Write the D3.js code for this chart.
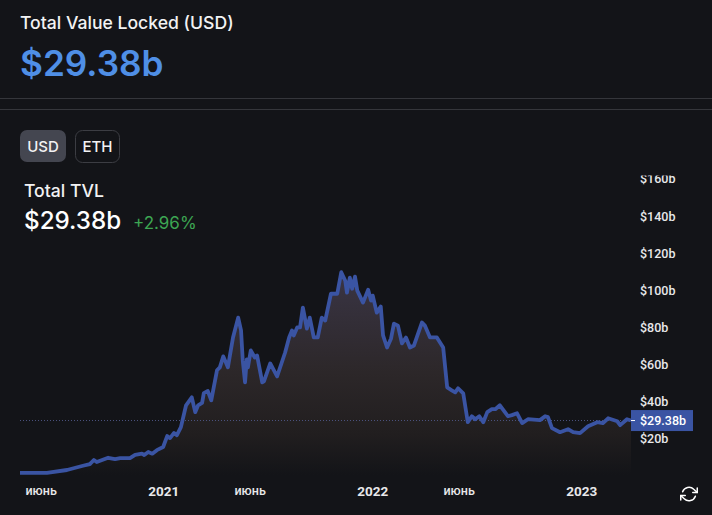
<!DOCTYPE html>
<html>
<head>
<meta charset="utf-8">
<script src="https://cdn.jsdelivr.net/npm/d3@7"></script>
<style>
  html, body { margin: 0; padding: 0; background: #131418; overflow: hidden; }
  text { font-family: Inter, sans-serif; }
  .axis text { font-family: Roboto, sans-serif; font-size: 12.5px; font-weight: 500; fill: #e8e8ea; }
  .axis .year text { font-size: 13.5px; font-weight: 700; }
</style>
</head>
<body>
<div id="chart"></div>
<script>
// days since the first point of the chart
const startDate = new Date(2020, 3, 26);
const days = [0, 47, 82, 110, 122, 129, 134, 154, 166, 175, 192, 201, 213, 217, 224, 231, 239, 250, 257, 262,
    269, 274, 281, 290, 300, 306, 311, 318, 321, 328, 334, 344, 349, 355, 363, 372, 381, 386, 389, 393,
    396, 398, 403, 410, 414, 423, 426, 437, 449, 463, 470, 475, 478, 484, 489, 494, 501, 506, 513, 520,
    527, 533, 543, 554, 561, 568, 571, 576, 580, 585, 589, 599, 608, 613, 616, 623, 630, 634, 641, 648,
    653, 660, 667, 674, 681, 688, 702, 707, 716, 728, 739, 746, 754, 760, 765, 774, 782, 789, 795, 802,
    809, 816, 824, 830, 838, 852, 859, 868, 877, 887, 908, 917, 922, 929, 943, 957, 966, 978, 992, 1008,
    1018, 1027, 1043, 1048, 1060, 1067];

// total value locked, billions of USD
const tvl = [1.2, 1.2, 2.7, 5, 5.9, 8.1, 7, 9.3, 8.6, 9.1, 9.1, 10.9, 11.5, 10.8, 12.4, 11.5, 13.4, 15.1, 21, 19.9,
    22.7, 21.5, 25.8, 37.6, 41.9, 33.9, 37.6, 38.9, 44.2, 45.3, 40.3, 56.5, 58.1, 64, 58.1, 74.2, 84.9, 78, 61.8, 50,
    62.4, 58.1, 67.2, 63.4, 64.5, 50, 50.5, 60.2, 53.2, 66.1, 74.2, 78, 75.3, 79.6, 79.6, 90.3, 79, 84.9, 74.2, 74.2,
    84.9, 83.3, 97.8, 97.8, 109.4, 104.8, 98.4, 106.5, 100.5, 107, 99.5, 93, 100, 94.1, 96.8, 87.6, 90.9, 75.3, 68.8, 73.7,
    81.7, 80.6, 71, 74.2, 68.8, 69.9, 82.3, 80.6, 74.2, 74.2, 68.8, 47.3, 45.7, 44.6, 46.8, 44.1, 28.5, 31.7, 30.1, 31.7,
    28.5, 33.9, 35.5, 35.5, 37.6, 31.7, 32.3, 33.3, 28, 30.1, 29.6, 31.7, 31.2, 25.3, 23.1, 24.7, 23.1, 22.6, 26.3, 28.5,
    28, 30.6, 29, 26.9, 30.1, 29.38];

const yTicks = [20, 40, 60, 80, 100, 120, 140, 160];
const timeTicks = [new Date(2020, 5, 1), new Date(2021, 0, 1), new Date(2021, 5, 1), new Date(2022, 0, 1), new Date(2022, 5, 1), new Date(2023, 0, 1)];
const timeLabels = ["июнь", "2021", "июнь", "2022", "июнь", "2023"];
const lastValue = 29.38;

const width = 712, height = 515;
const lineColor = "#3a54a3";

const svg = d3.select("#chart")
    .append("svg")
    .attr("width", width)
    .attr("height", height)
    .style("display", "block");

// header block
svg.append("text").attr("x", 20).attr("y", 29)
    .style("font-size", "17.6px").style("font-weight", 500).style("fill", "#f2f2f3")
    .text("Total Value Locked (USD)");
svg.append("text").attr("x", 20).attr("y", 76)
    .style("font-size", "35.2px").style("font-weight", 600).style("fill", "#4f8fe6")
    .text("$29.38b");

svg.selectAll(".divider")
    .data([98, 109])
    .join("line")
    .attr("class", "divider")
    .attr("x1", 0).attr("x2", width)
    .attr("y1", d => d + 0.5).attr("y2", d => d + 0.5)
    .style("stroke", "#35363b");

// USD / ETH toggle
svg.append("rect").attr("x", 20).attr("y", 130).attr("width", 46).attr("height", 32).attr("rx", 7)
    .style("fill", "#444650");
svg.append("rect").attr("x", 75.5).attr("y", 130.5).attr("width", 44).attr("height", 32).attr("rx", 7)
    .style("fill", "none").style("stroke", "#3c3d43");
svg.append("text").attr("x", 43).attr("y", 152)
    .attr("text-anchor", "middle")
    .style("font-size", "15px").style("font-weight", 500).style("fill", "#f2f2f3").text("USD");
svg.append("text").attr("x", 97.5).attr("y", 152)
    .attr("text-anchor", "middle")
    .style("font-size", "15px").style("font-weight", 500).style("fill", "#f2f2f3").text("ETH");

svg.append("text").attr("x", 24).attr("y", 197)
    .style("font-size", "17.6px").style("font-weight", 500).style("fill", "#f2f2f3").text("Total TVL");
svg.append("text").attr("x", 24).attr("y", 229)
    .style("font-size", "24.2px").style("font-weight", 500).style("fill", "#ffffff").text("$29.38b");
svg.append("text").attr("x", 133).attr("y", 229)
    .style("font-size", "17px").style("font-weight", 400).style("fill", "#3da653").text("+2.96%");

// scales
const data = days.map((d, i) => ({date: d3.timeDay.offset(startDate, d), value: tvl[i]}));

const x = d3.scaleTime()
    .domain([startDate, d3.timeDay.offset(startDate, 1067)])
    .range([20, 631]);
const y = d3.scaleLinear()
    .domain([0, 162.4])
    .range([475, 174]);

const defs = svg.append("defs");
const grad = defs.append("linearGradient")
    .attr("id", "areaFill")
    .attr("gradientUnits", "userSpaceOnUse")
    .attr("x1", 0).attr("x2", 0)
    .attr("y1", y(110)).attr("y2", y(0));
grad.append("stop").attr("offset", 0).attr("stop-color", "#3a3545");
grad.append("stop").attr("offset", 0.5).attr("stop-color", "#2c2729");
grad.append("stop").attr("offset", 0.8).attr("stop-color", "#211e1f");
grad.append("stop").attr("offset", 1).attr("stop-color", "#131418");

defs.append("clipPath").attr("id", "axisClip")
    .append("rect").attr("x", 631).attr("y", 175.5).attr("width", 81).attr("height", 300);

// area + line
svg.append("path")
    .datum(data)
    .attr("d", d3.area().x(d => x(d.date)).y0(y(0)).y1(d => y(d.value)))
    .style("fill", "url(#areaFill)");

svg.append("line")
    .attr("x1", 20).attr("x2", 631)
    .attr("y1", y(lastValue)).attr("y2", y(lastValue))
    .style("stroke", "#4d5480")
    .style("stroke-width", 1)
    .style("stroke-dasharray", "1,2");

svg.append("path")
    .datum(data)
    .attr("d", d3.line().x(d => x(d.date)).y(d => y(d.value)))
    .style("fill", "none")
    .style("stroke", lineColor)
    .style("stroke-width", 3.8)
    .style("stroke-linejoin", "round");

// y axis, top label is cut off by the pane like in the original
const yAxis = svg.append("g")
    .attr("class", "axis")
    .attr("clip-path", "url(#axisClip)")
    .append("g")
    .attr("transform", "translate(631, 0.5)")
    .call(d3.axisRight(y).tickValues(yTicks).tickSize(0).tickPadding(9).tickFormat(d => `$${d}b`));
yAxis.select(".domain").remove();

// x axis
const xAxis = svg.append("g")
    .attr("class", "axis")
    .attr("transform", "translate(0, 484)")
    .call(d3.axisBottom(x).tickValues(timeTicks).tickSize(0).tickPadding(2).tickFormat((d, i) => timeLabels[i]));
xAxis.select(".domain").remove();
xAxis.selectAll(".tick").classed("year", (d, i) => i % 2 === 1);

// current value label
svg.append("rect")
    .attr("x", 631).attr("y", y(lastValue) - 10.5)
    .attr("width", 62).attr("height", 21)
    .style("fill", lineColor);
svg.append("line")
    .attr("x1", 631).attr("x2", 635)
    .attr("y1", y(lastValue)).attr("y2", y(lastValue))
    .style("stroke", "#ffffff");
svg.append("text")
    .attr("x", 640).attr("y", y(lastValue) + 4.5)
    .style("font-family", "Roboto, sans-serif")
    .style("font-size", "12.5px").style("font-weight", 500).style("fill", "#ffffff")
    .text("$" + lastValue + "b");

// refresh icon
const icon = svg.append("g")
    .attr("transform", "translate(680, 485) scale(0.75)")
    .style("fill", "none").style("stroke", "#ffffff")
    .style("stroke-width", 2).style("stroke-linecap", "round").style("stroke-linejoin", "round");
icon.append("path").attr("d", "M23 4v6h-6");
icon.append("path").attr("d", "M1 20v-6h6");
icon.append("path").attr("d", "M3.51 9a9 9 0 0 1 14.85-3.36L23 10M1 14l4.64 4.36A9 9 0 0 0 20.49 15");
</script>
</body>
</html>
